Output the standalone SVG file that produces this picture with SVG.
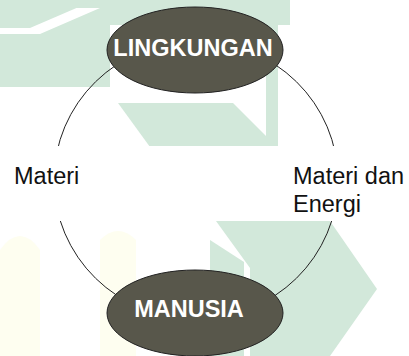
<svg xmlns="http://www.w3.org/2000/svg" width="409" height="356" viewBox="0 0 409 356">
  <style>
    .wm { fill: #d2e8da; stroke: none; }
    .wmy { fill: #fefef0; stroke: none; }
    .node { fill: #58574b; stroke: #222222; stroke-width: 1; }
    .ntext { font-family: "Liberation Sans", Arial, sans-serif; font-weight: bold; font-size: 23.5px; fill: #ffffff; text-anchor: middle; }
    .label { font-family: "Liberation Sans", Arial, sans-serif; font-size: 23.5px; fill: #111111; }
    .conn { fill: none; stroke: #222222; stroke-width: 1; }
  </style>
  <rect x="0" y="0" width="409" height="356" fill="#ffffff"/>
  <g id="watermark">
    <polygon class="wm" points="0,0 290,0 290,8 110,8 0,8"/>
    <polygon class="wm" points="0,0 95,0 30,28 0,28"/>
    <polygon class="wm" points="0,34 40,34 100,8 290,8 290,25 110,25 110,87 0,87"/>
    <polygon class="wm" points="266,25 278,25 278,147 266,147"/>
    <polygon class="wm" points="118,103 233,103 277,147 150,147"/>
    <polygon class="wm" points="210,221 330,221 377,289 330,356 250,356 250,268 216,221"/>
    <polygon class="wm" points="210,240 244,262 244,356 210,356"/>
    <path class="wmy" d="M0,356 L0,250 Q20,222 40,250 L40,356 Z"/>
    <path class="wmy" d="M100,356 L100,240 Q118,222 136,240 L136,356 Z"/>
  </g>
  <g id="connectors">
    <ellipse class="conn" cx="196" cy="180" rx="142" ry="139"/>
  </g>
  <rect x="0" y="146" width="390" height="75" fill="#ffffff"/>
  <g id="labels">
    <text class="label" x="14" y="184">Materi</text>
    <text class="label" x="293" y="184">Materi dan</text>
    <text class="label" x="293" y="212">Energi</text>
  </g>
  <g id="node-lingkungan">
    <ellipse class="node" cx="195" cy="50" rx="88" ry="43"/>
    <text class="ntext" x="193" y="56">LINGKUNGAN</text>
  </g>
  <g id="node-manusia">
    <ellipse class="node" cx="195" cy="313" rx="88" ry="43"/>
    <text class="ntext" x="189" y="317">MANUSIA</text>
  </g>
</svg>
